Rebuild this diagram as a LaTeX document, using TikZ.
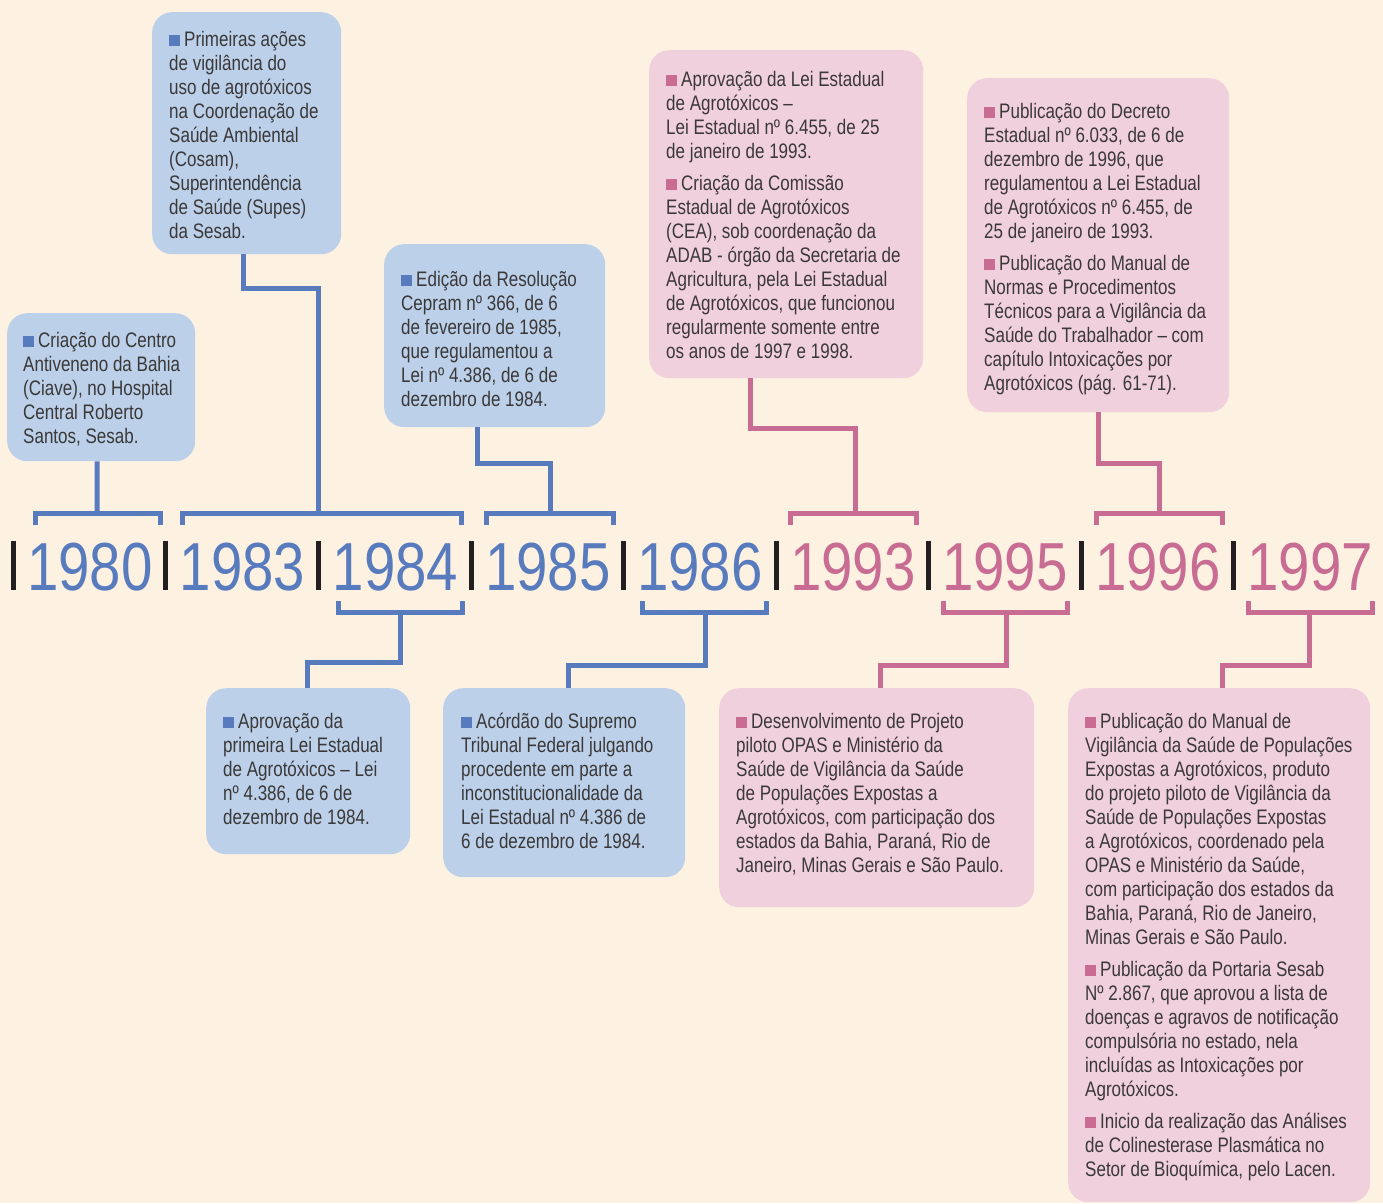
\documentclass[tikz,border=0pt]{standalone}
\usepackage{fontspec}
\setmainfont[FakeStretch=0.81]{Liberation Sans}
\newfontfamily\yearfont[FakeStretch=0.83]{Liberation Sans}
\definecolor{paper}{HTML}{FDF1E1}
\definecolor{cardblue}{HTML}{BCD0E9}
\definecolor{cardpink}{HTML}{F1D0DE}
\definecolor{lineblue}{HTML}{587BBE}
\definecolor{linepink}{HTML}{C96C94}
\definecolor{tickcol}{HTML}{231F20}
\definecolor{ink}{HTML}{3A3838}
\newcommand\itemsq[1]{\textcolor{#1}{\rule{11pt}{11pt}}\hspace{4pt}}
\newcommand\notetext[1]{\parbox[t]{330pt}{\raggedright #1}}
\begin{document}
\begin{tikzpicture}[x=1pt,y=-1pt,
  card/.style={rounded corners=20pt, inner sep=0pt, anchor=north west},
  bluecard/.style={card, fill=cardblue},
  pinkcard/.style={card, fill=cardpink},
  note/.style={anchor=base west, inner sep=0pt, text=ink, font=\fontsize{21}{24}\selectfont},
  yr/.style={anchor=base, inner sep=0pt, font=\yearfont\fontsize{68}{68}\selectfont},
  tick/.style={line width=5pt, draw=tickcol},
  bline/.style={line width=5pt, draw=lineblue, line join=miter},
  pline/.style={line width=5pt, draw=linepink, line join=miter}]

\useasboundingbox (0,0) rectangle (1383,1203);
\fill[paper] (0,0) rectangle (1383,1203);

% ---- year row ----
\foreach \x in {13,165,318,471,623,776,928,1081,1233}
  \draw[tick] (\x,541) -- (\x,590);
\node[yr, text=lineblue] (y80) at (90,590) {1980};
\node[yr, text=lineblue] (y83) at (242.5,590) {1983};
\node[yr, text=lineblue] (y84) at (395.5,590) {1984};
\node[yr, text=lineblue] (y85) at (548,590) {1985};
\node[yr, text=lineblue] (y86) at (700,590) {1986};
\node[yr, text=linepink] (y93) at (853,590) {1993};
\node[yr, text=linepink] (y95) at (1005,590) {1995};
\node[yr, text=linepink] (y96) at (1158,590) {1996};
\node[yr, text=linepink] (y97) at (1310,590) {1997};

% ---- brackets over and under the years ----
\draw[bline] (35,525) -- (35,513) -- (160,513) -- (160,525);
\draw[bline] (182,525) -- (182,513) -- (461,513) -- (461,525);
\draw[bline] (486,525) -- (486,513) -- (613,513) -- (613,525);
\draw[pline] (790,525) -- (790,513) -- (916,513) -- (916,525);
\draw[pline] (1096,525) -- (1096,513) -- (1222,513) -- (1222,525);
\draw[bline] (338,601) -- (338,612) -- (462,612) -- (462,601);
\draw[bline] (642,601) -- (642,612) -- (766,612) -- (766,601);
\draw[pline] (943,601) -- (943,612) -- (1067,612) -- (1067,601);
\draw[pline] (1248,601) -- (1248,612) -- (1372,612) -- (1372,601);

\coordinate (k80) at (97,513);
\coordinate (k83) at (318,513);
\coordinate (k85) at (550,513);
\coordinate (k93) at (855,513);
\coordinate (k96) at (1159,513);
\coordinate (k84) at (400,612);
\coordinate (k86) at (705,612);
\coordinate (k95) at (1006,612);
\coordinate (k97) at (1309,612);

% ---- cards ----
\node[bluecard, minimum width=188pt, minimum height=148pt] (b80) at (7,313) {};
\node[bluecard, minimum width=189pt, minimum height=242pt] (b83) at (152,12) {};
\node[bluecard, minimum width=221pt, minimum height=183pt] (b85) at (384,244) {};
\node[pinkcard, minimum width=274pt, minimum height=328pt] (b93) at (649,50) {};
\node[pinkcard, minimum width=262pt, minimum height=334pt] (b96) at (967,78) {};
\node[bluecard, minimum width=204pt, minimum height=166pt] (b84) at (206,688) {};
\node[bluecard, minimum width=242pt, minimum height=189pt] (b86) at (443,688) {};
\node[pinkcard, minimum width=315pt, minimum height=219pt] (b95) at (719,688) {};
\node[pinkcard, minimum width=302pt, minimum height=514pt] (b97) at (1068,688) {};

% ---- connectors ----
\draw[bline] ([xshift=-4pt]b80.south) -- (k80);
\draw[bline] ([xshift=-3.5pt]b83.south) -- ++(0,34) -| (k83);
\draw[bline] ([xshift=-17.5pt]b85.south) -- ++(0,36) -| (k85);
\draw[pline] ([xshift=-36pt]b93.south) -- ++(0,50) -| (k93);
\draw[pline] (b96.south) -- ++(0,51) -| (k96);
\draw[bline] ([xshift=-1pt]b84.north) -- ++(0,-26) -| (k84);
\draw[bline] ([xshift=4pt]b86.north) -- ++(0,-23) -| (k86);
\draw[pline] ([xshift=3.5pt]b95.north) -- ++(0,-23) -| (k95);
\draw[pline] ([xshift=3pt]b97.north) -- ++(0,-23) -| (k97);

% ---- card texts ----
\node[note] (t80) at (23,347) {\notetext{\itemsq{lineblue}Criação do Centro\\
Antiveneno da Bahia\\(Ciave), no Hospital\\Central Roberto\\Santos, Sesab.}};

\node[note] (t83) at (169,46) {\notetext{\itemsq{lineblue}Primeiras ações\\
de vigilância do\\uso de agrotóxicos\\na Coordenação de\\Saúde Ambiental\\
(Cosam),\\Superintendência\\de Saúde (Supes)\\da Sesab.}};

\node[note] (t85) at (401,286) {\notetext{\itemsq{lineblue}Edição da Resolução\\
Cepram nº 366, de 6\\de fevereiro de 1985,\\que regulamentou a\\
Lei nº 4.386, de 6 de\\dezembro de 1984.}};

\node[note] (t93) at (666,86) {\notetext{\itemsq{linepink}Aprovação da Lei Estadual\\
de Agrotóxicos –\\Lei Estadual nº 6.455, de 25\\de janeiro de 1993.\\[8pt]
\itemsq{linepink}Criação da Comissão\\Estadual de Agrotóxicos\\
(CEA), sob coordenação da\\ADAB - órgão da Secretaria de\\
Agricultura, pela Lei Estadual\\de Agrotóxicos, que funcionou\\
regularmente somente entre\\os anos de 1997 e 1998.}};

\node[note] (t96) at (984,118) {\notetext{\itemsq{linepink}Publicação do Decreto\\
Estadual nº 6.033, de 6 de\\dezembro de 1996, que\\regulamentou a Lei Estadual\\
de Agrotóxicos nº 6.455, de\\25 de janeiro de 1993.\\[8pt]
\itemsq{linepink}Publicação do Manual de\\Normas e Procedimentos\\
Técnicos para a Vigilância da\\Saúde do Trabalhador – com\\
capítulo Intoxicações por\\Agrotóxicos (pág. 61-71).}};

\node[note] (t84) at (223,728) {\notetext{\itemsq{lineblue}Aprovação da\\
primeira Lei Estadual\\de Agrotóxicos – Lei\\nº 4.386, de 6 de\\dezembro de 1984.}};

\node[note] (t86) at (461,728) {\notetext{\itemsq{lineblue}Acórdão do Supremo\\
Tribunal Federal julgando\\procedente em parte a\\inconstitucionalidade da\\
Lei Estadual nº 4.386 de\\6 de dezembro de 1984.}};

\node[note] (t95) at (736,728) {\notetext{\itemsq{linepink}Desenvolvimento de Projeto\\
piloto OPAS e Ministério da\\Saúde de Vigilância da Saúde\\de Populações Expostas a\\
Agrotóxicos, com participação dos\\estados da Bahia, Paraná, Rio de\\
Janeiro, Minas Gerais e São Paulo.}};

\node[note] (t97) at (1085,728) {\notetext{\itemsq{linepink}Publicação do Manual de\\
Vigilância da Saúde de Populações\\Expostas a Agrotóxicos, produto\\
do projeto piloto de Vigilância da\\Saúde de Populações Expostas\\
a Agrotóxicos, coordenado pela\\OPAS e Ministério da Saúde,\\
com participação dos estados da\\Bahia, Paraná, Rio de Janeiro,\\
Minas Gerais e São Paulo.\\[8pt]
\itemsq{linepink}Publicação da Portaria Sesab\\Nº 2.867, que aprovou a lista de\\
doenças e agravos de notificação\\compulsória no estado, nela\\
incluídas as Intoxicações por\\Agrotóxicos.\\[8pt]
\itemsq{linepink}Inicio da realização das Análises\\de Colinesterase Plasmática no\\
Setor de Bioquímica, pelo Lacen.}};
\end{tikzpicture}
\end{document}
